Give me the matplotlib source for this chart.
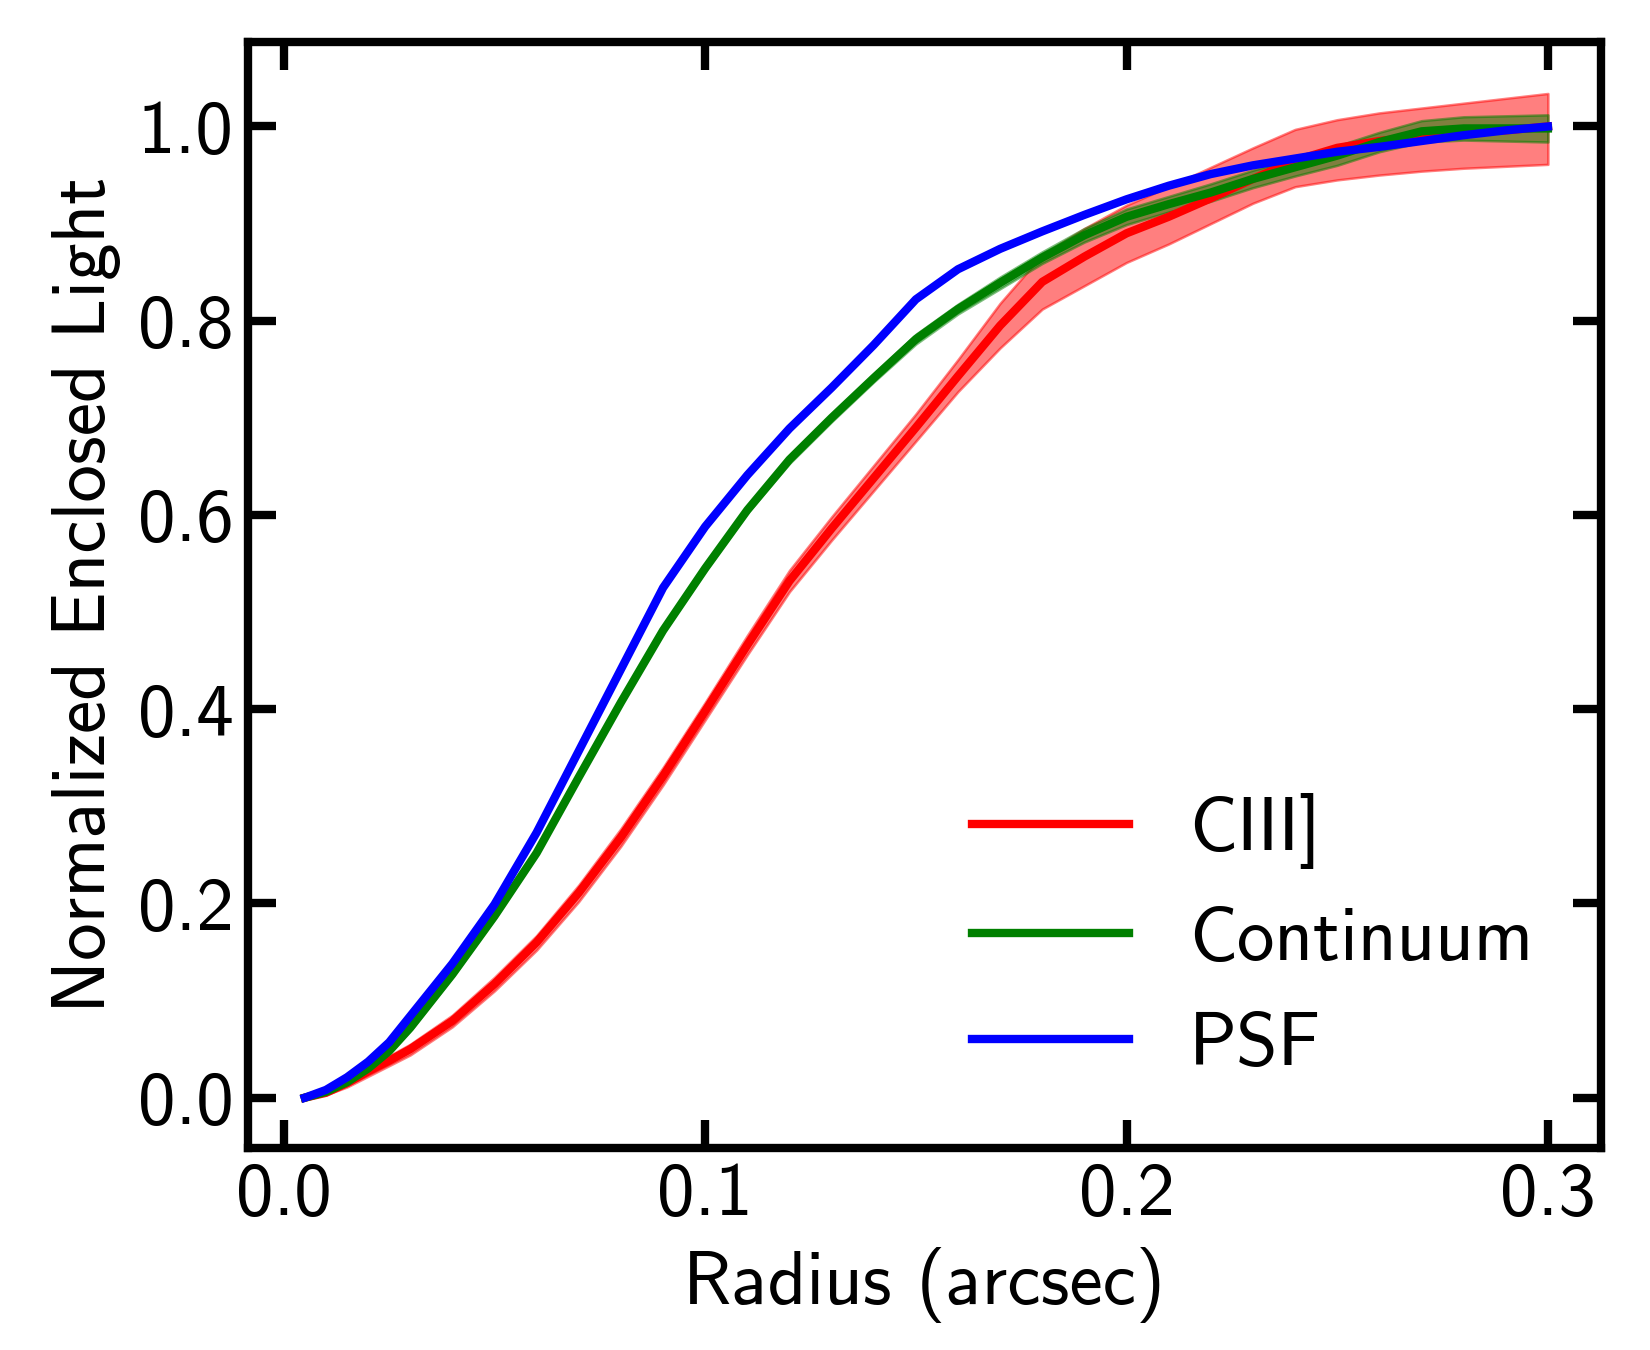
import matplotlib
matplotlib.use("Agg")
import matplotlib.pyplot as plt
import numpy as np

plt.rcParams['font.family'] = ['cmss10', 'DejaVu Sans']
plt.rcParams['axes.unicode_minus'] = False
plt.rcParams['mathtext.fontset'] = 'cm'

radius = [0.005, 0.01, 0.015, 0.02, 0.025, 0.03, 0.04, 0.05, 0.06, 0.07, 0.08,
          0.09, 0.10, 0.11, 0.12, 0.13, 0.14, 0.15, 0.16, 0.17, 0.18, 0.19,
          0.20, 0.21, 0.22, 0.23, 0.24, 0.25, 0.26, 0.27, 0.28, 0.29, 0.30]

psf = [0.0, 0.008, 0.021, 0.037, 0.057, 0.084, 0.138, 0.199, 0.273, 0.357, 0.441,
       0.525, 0.588, 0.641, 0.689, 0.731, 0.775, 0.822, 0.853, 0.874, 0.892, 0.909,
       0.925, 0.939, 0.951, 0.960, 0.967, 0.974, 0.979, 0.985, 0.991, 0.996, 1.0]

continuum = [0.0, 0.006, 0.016, 0.030, 0.048, 0.072, 0.127, 0.187, 0.252, 0.330, 0.407,
             0.481, 0.545, 0.605, 0.657, 0.700, 0.741, 0.781, 0.812, 0.839, 0.865, 0.888,
             0.907, 0.920, 0.932, 0.946, 0.958, 0.970, 0.984, 0.995, 0.998, 0.998, 0.998]
continuum_err = [0.0, 0.002, 0.002, 0.002, 0.002, 0.003, 0.003, 0.003, 0.003, 0.003, 0.003,
                 0.003, 0.003, 0.003, 0.004, 0.004, 0.004, 0.005, 0.005, 0.006, 0.006, 0.007,
                 0.008, 0.008, 0.009, 0.009, 0.009, 0.010, 0.010, 0.011, 0.012, 0.013, 0.014]

ciii = [0.0, 0.005, 0.015, 0.027, 0.038, 0.050, 0.079, 0.117, 0.160, 0.211, 0.268,
        0.331, 0.398, 0.466, 0.532, 0.586, 0.638, 0.690, 0.743, 0.795, 0.840, 0.866,
        0.890, 0.907, 0.926, 0.946, 0.965, 0.978, 0.985, 0.990, 0.994, 0.996, 1.0]
ciii_hi = [0.001, 0.007, 0.018, 0.031, 0.043, 0.055, 0.085, 0.124, 0.167, 0.219, 0.277,
           0.340, 0.407, 0.476, 0.543, 0.598, 0.651, 0.704, 0.760, 0.818, 0.868, 0.895,
           0.919, 0.938, 0.958, 0.978, 0.997, 1.007, 1.014, 1.019, 1.024, 1.029, 1.034]
ciii_lo = [0.0, 0.003, 0.011, 0.022, 0.033, 0.044, 0.073, 0.110, 0.152, 0.202, 0.259,
           0.322, 0.389, 0.456, 0.521, 0.574, 0.625, 0.676, 0.727, 0.772, 0.812, 0.836,
           0.860, 0.879, 0.900, 0.921, 0.938, 0.945, 0.950, 0.954, 0.957, 0.959, 0.961]

labels = ['CIII]', 'Continuum', 'PSF']

r = np.array(radius)
cont = np.array(continuum)
cerr = np.array(continuum_err)

fig = plt.figure(figsize=(5.5, 4.5), dpi=300)
ax = fig.add_axes([0.1503, 0.15, 0.8200, 0.8189])

ax.fill_between(r, ciii_lo, ciii_hi, color='red', alpha=0.5, lw=0.6)
ax.plot(r, ciii, color='red', lw=2, label=labels[0])
ax.fill_between(r, cont - cerr, cont + cerr, color='green', alpha=0.5, lw=0.6)
ax.plot(r, cont, color='green', lw=2, label=labels[1])
ax.plot(r, psf, color='blue', lw=2, label=labels[2])

ax.set_xlim(-0.0085, 0.3126)
ax.set_ylim(-0.0513, 1.087)
ax.set_xticks([0.0, 0.1, 0.2, 0.3])
ax.set_yticks([0.0, 0.2, 0.4, 0.6, 0.8, 1.0])

ax.tick_params(direction='in', top=True, right=True, length=6.7, width=2,
               labelsize=18)
for s in ax.spines.values():
    s.set_linewidth(2)

ax.set_xlabel('Radius (arcsec)', fontsize=18)
ax.set_ylabel('Normalized Enclosed Light', fontsize=18)

ax.legend(loc='lower right', frameon=False, fontsize=18, handlelength=2.1)

fig.savefig('out.png', dpi=300)
